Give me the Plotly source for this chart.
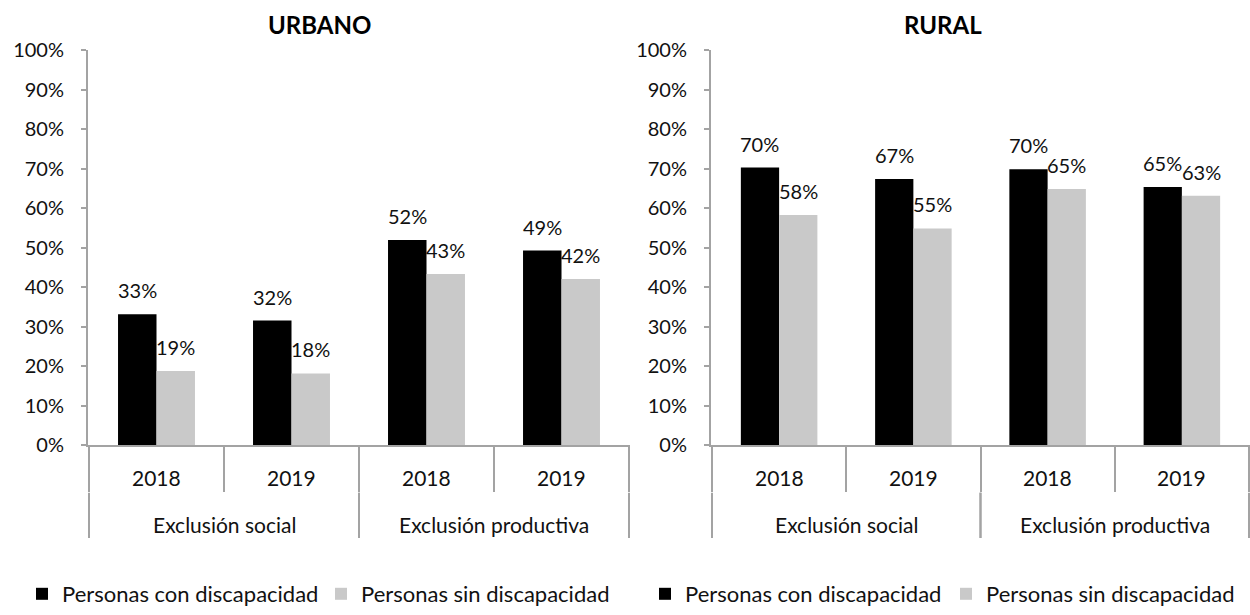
import plotly.graph_objects as go

groups = ["Exclusión social", "Exclusión social", "Exclusión productiva", "Exclusión productiva"]
years = ["2018", "2019", "2018", "2019"]
series_names = ["Personas con discapacidad", "Personas sin discapacidad"]
urbano_con = [33.2, 31.6, 52.0, 49.3]
urbano_sin = [18.8, 18.2, 43.4, 42.1]
rural_con = [70.3, 67.4, 69.9, 65.4]
rural_sin = [58.3, 54.9, 64.9, 63.2]
panel_titles = ["URBANO", "RURAL"]
y_ticks = [0, 10, 20, 30, 40, 50, 60, 70, 80, 90, 100]

COLORS = ["#000000", "#c9c9c9"]
FONT = "Lato"
TXT = "#111111"
AXIS_COLOR = "#a3a3a3"
BARGAP = 0.43

W, H = 1250, 615
Y0, Y100 = 452, 51          # pixel rows of 0% and 100%
INNER_Y, OUTER_Y = 485, 532  # pixel rows of category label centres
fig = go.Figure()

def py(p):
    return 1 - p / H

panels = [
    ("x", "y", "legend", [urbano_con, urbano_sin]),
    ("x2", "y2", "legend2", [rural_con, rural_sin]),
]
for xa, ya, lg, series in panels:
    for name, vals, col in zip(series_names, series, COLORS):
        fig.add_trace(go.Bar(
            x=[groups, years], y=vals, name=name, marker_color=col,
            marker_line_width=0, xaxis=xa, yaxis=ya, legend=lg,
            hoverinfo="skip",
        ))
    # data labels
    bw = (1 - BARGAP) / len(series)
    for si, vals in enumerate(series):
        off = (si - (len(series) - 1) / 2) * bw
        for i, v in enumerate(vals):
            fig.add_annotation(
                x=i + off, y=v, xref=xa, yref=ya, text=f"{round(v)}%",
                showarrow=False, yanchor="bottom", yshift=10,
                font=dict(family=FONT, size=20, color=TXT),
            )
    # category labels (inner: years, outer: groups)
    for i, yr in enumerate(years):
        fig.add_annotation(x=i, y=py(INNER_Y), xref=xa, yref="paper", text=yr,
                           showarrow=False, yanchor="middle",
                           font=dict(family=FONT, size=21, color=TXT))
    outer = []
    for i, g in enumerate(groups):
        if outer and outer[-1][0] == g:
            outer[-1][2] = i
        else:
            outer.append([g, i, i])
    for g, a, b in outer:
        fig.add_annotation(x=(a + b) / 2, y=py(OUTER_Y), xref=xa, yref="paper",
                           text=g, showarrow=False, yanchor="middle",
                           font=dict(family=FONT, size=21, color=TXT))
        for xb in (a - 0.5, b + 0.5):
            fig.add_shape(type="line", xref=xa, yref="paper", x0=xb, x1=xb,
                          y0=py(500), y1=py(546),
                          line=dict(color=AXIS_COLOR, width=2))

axis_common_y = dict(
    range=[0, 100], tickmode="array", tickvals=y_ticks,
    ticktext=[f"{v}%" for v in y_ticks], showgrid=False,
    showline=True, linecolor=AXIS_COLOR, linewidth=2, ticks="outside",
    ticklen=5, tickcolor=AXIS_COLOR, tickwidth=2, ticklabelstandoff=13,
    tickfont=dict(family=FONT, size=20, color=TXT), zeroline=False,
    domain=[py(Y0), py(Y100)], automargin=False, fixedrange=True,
)
axis_common_x = dict(
    type="multicategory", showline=True, linecolor=AXIS_COLOR, linewidth=2,
    ticks="outside", tickson="boundaries", ticklen=45, tickcolor=AXIS_COLOR,
    tickwidth=2, showticklabels=False, showdividers=False, showgrid=False,
    automargin=False, fixedrange=True,
)

legend_common = dict(orientation="h", y=py(603), xanchor="left", yanchor="middle",
                     font=dict(family=FONT, size=22, color=TXT),
                     entrywidthmode="pixels", itemclick=False,
                     bgcolor="rgba(0,0,0,0)")

fig.update_layout(
    width=W, height=H,
    margin=dict(l=0, r=0, t=0, b=0),
    paper_bgcolor="white", plot_bgcolor="white",
    barmode="group", bargap=BARGAP, bargroupgap=0,
    xaxis=dict(axis_common_x, domain=[88 / W, 630 / W], anchor="y"),
    yaxis=dict(axis_common_y, anchor="x"),
    xaxis2=dict(axis_common_x, domain=[711 / W, 1.0], anchor="y2"),
    yaxis2=dict(axis_common_y, anchor="x2"),
    legend=dict(legend_common, x=22 / W, entrywidth=254),
    legend2=dict(legend_common, x=645 / W, entrywidth=256),
    showlegend=True,
)

for t, cx in zip(panel_titles, [319, 943]):
    fig.add_annotation(x=cx / W, y=py(25), xref="paper", yref="paper",
                       text=f"<b>{t}</b>", showarrow=False, xanchor="center",
                       yanchor="middle",
                       font=dict(family=FONT, size=24, color="#000000"))

post = (
    "var d=document.getElementById('{plot_id}');"
    "d.style.position='fixed';d.style.top='0';d.style.left='0';"
    "document.body.style.margin='0';"
    "document.documentElement.style.overflow='hidden';"
)
fig.write_html("out.html", config={"displayModeBar": False}, post_script=post)
